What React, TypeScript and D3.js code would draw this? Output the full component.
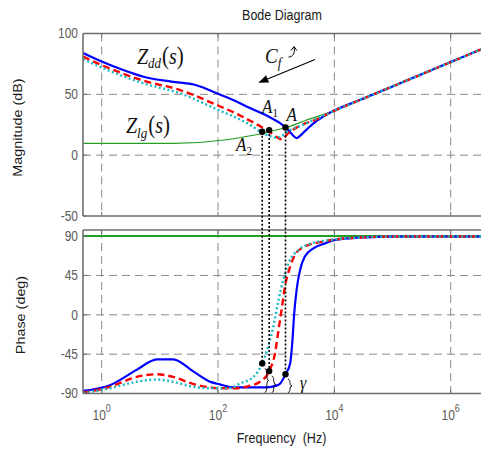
import React from 'react';
import * as d3 from 'd3';

type P = [number, number]; // [log10(frequency in Hz), value]

const xTickExps = [0, 2, 4, 6];
const magTicks = [100, 50, 0, -50];
const phaseTicks = [90, 45, 0, -45, -90];

const magBlue: P[] = [[-0.32, 84], [0, 77], [0.37, 70], [0.72, 64.5], [1.2, 60.5], [1.6, 57.9], [2.01, 50.2], [2.3, 44.5], [2.55, 38.7], [2.9, 31], [3.06, 26.5], [3.16, 23], [3.27, 17.3], [3.35, 14], [3.41, 15.9], [3.5, 20], [3.7, 28.3], [3.93, 35], [4.5, 46.5], [5, 56.5], [5.5, 66.5], [6, 76.5], [6.6, 88.5]];
const magRed: P[] = [[-0.32, 81], [0, 74], [0.72, 61.2], [1.35, 53.5], [2.01, 40.6], [2.3, 34.5], [2.55, 28.3], [2.81, 21.4], [2.95, 17], [3.04, 14], [3.1, 13], [3.19, 17.3], [3.35, 22.7], [3.7, 29.6], [3.93, 35], [4.5, 46.5], [5, 56.5], [5.5, 66.5], [6, 76.5], [6.6, 88.5]];
const magCyan: P[] = [[-0.32, 79], [0, 72], [0.72, 59], [1.35, 50.8], [2.01, 37], [2.3, 31], [2.55, 25], [2.75, 18.6], [2.9, 15.5], [2.99, 14.5], [3.07, 15], [3.19, 19.4], [3.41, 24], [3.7, 30], [3.93, 35], [4.5, 46.5], [5, 56.5], [5.5, 66.5], [6, 76.5], [6.6, 88.5]];
const magGreen: P[] = [[-0.32, 9.7], [1.23, 9.7], [3.16, 22.5], [3.5, 28.5], [3.93, 35.5], [4.5, 46.5], [5, 56.5], [6, 76.5], [6.6, 88.5]];

const phBlue: P[] = [[-0.32, -87], [0.14, -80.5], [0.6, -63], [0.95, -51], [1.23, -51], [1.58, -65], [1.87, -76.7], [2.03, -79.5], [2.27, -83], [2.84, -83], [3.0, -81], [3.07, -78.5], [3.16, -68], [3.24, -55.7], [3.28, -29], [3.31, 1.6], [3.35, 28], [3.41, 51], [3.49, 66.4], [3.64, 76], [3.84, 81.7], [4, 85.5], [4.5, 88.5], [5, 89.5], [6.6, 89.5]];
const phRed: P[] = [[-0.32, -89], [0.14, -82.4], [0.6, -71], [0.95, -68], [1.23, -71], [1.58, -79.3], [1.87, -83], [2.0, -84], [2.3, -84], [2.55, -81], [2.72, -76.6], [2.88, -64.4], [2.98, -44], [3.04, -17.5], [3.1, 9], [3.15, 32], [3.24, 55], [3.32, 68.3], [3.49, 78], [3.78, 83.5], [4, 86], [4.5, 88.5], [5, 89.5], [6.6, 89.5]];
const phCyan: P[] = [[-0.32, -89.5], [0.14, -84], [0.6, -76.6], [0.95, -74], [1.23, -76.6], [1.58, -82.4], [1.87, -84], [2.2, -84], [2.38, -78.5], [2.61, -71], [2.76, -55.6], [2.86, -36.6], [2.95, -13.7], [3.04, 16.8], [3.12, 39.7], [3.21, 58.8], [3.38, 74], [3.61, 81.7], [4, 86], [4.5, 88.5], [5, 89.5], [6.6, 89.5]];
const phGreen: P[] = [[-0.32, 90], [6.6, 90]];

const pointNames = ['A2', 'A1', 'A'];
const pointLogF = [2.76, 2.88, 3.16];
const pointMag = [19.3, 20.6, 22.7];
const pointPhase = [-55.6, -64.4, -68];

const SY = 1.15;
const SANS = 'Liberation Sans, Arial, sans-serif';
const SERIF = 'Liberation Serif, Times New Roman, serif';

const C_BLUE = '#0000ff';
const C_RED = '#ff0000';
const C_CYAN = '#17b9c6';
const C_GREEN = '#22a022';
const C_GRID = '#8a8a8a';
const C_AXIS = '#6e6e6e';
const C_TICK = '#5a5a5a';

function T(props: any) {
  const { x, y, children, ...rest } = props;
  return (
    <text transform={`translate(${x},${y}) scale(1,${SY})`} {...rest}>
      {children}
    </text>
  );
}

function brace(x: number, y0: number, y1: number, w: number) {
  const m = (y0 + y1) / 2;
  return `M${x},${y0} C${x + w * 0.8},${y0} ${x + w * 0.2},${m} ${x + w},${m} C${x + w * 0.2},${m} ${x + w * 0.8},${y1} ${x},${y1}`;
}

export default function App() {
  const L = 83;
  const R = 485.6;
  const x = d3.scaleLog().domain([Math.pow(10, -0.321), Math.pow(10, 6.6)]).range([L, R]);
  const yMag = d3.scaleLinear().domain([-50, 100]).range([216, 33.5]);
  const yPh = d3.scaleLinear().domain([-90, 97]).range([393.5, 230]);

  const fx = (e: number) => x(Math.pow(10, e));
  const lineMag = d3.line<P>().x((d) => fx(d[0])).y((d) => yMag(d[1])).curve(d3.curveMonotoneX);
  const linePh = d3.line<P>().x((d) => fx(d[0])).y((d) => yPh(d[1])).curve(d3.curveMonotoneX);

  const magTop = yMag(100), magBot = yMag(-50);
  const phTop = yPh(97), phBot = yPh(-90);

  // arrow for C_f
  const ax0 = 315, ay0 = 59.5, ax1 = 258.3, ay1 = 82.7;
  const ang = Math.atan2(ay1 - ay0, ax1 - ax0);
  const hl = 10, hw = 4;
  const bx = ax1 - hl * Math.cos(ang), by = ay1 - hl * Math.sin(ang);
  const head = `M${ax1},${ay1} L${bx + hw * Math.sin(ang)},${by - hw * Math.cos(ang)} L${bx - hw * Math.sin(ang)},${by + hw * Math.cos(ang)} Z`;

  const gridDash = '8,5';

  return (
    <svg width={481} height={450} style={{ position: 'absolute', left: 0, top: 0, background: '#fff' }}>
      <defs>
        <clipPath id="clipMag"><rect x={L} y={magTop} width={R - L} height={magBot - magTop} /></clipPath>
        <clipPath id="clipPh"><rect x={L} y={phTop} width={R - L} height={phBot - phTop} /></clipPath>
      </defs>

      {/* Title */}
      <T x={282} y={19.5} textAnchor="middle" fontFamily={SANS} fontSize={12.5} fill="#1a1a1a">Bode Diagram</T>

      {/* Magnitude grid */}
      <g stroke={C_GRID} strokeWidth={1} strokeDasharray={gridDash} fill="none">
        {magTicks.filter((t) => t !== 100 && t !== -50).map((t) => (
          <line key={'mh' + t} x1={L} x2={R} y1={yMag(t)} y2={yMag(t)} />
        ))}
        {xTickExps.map((e) => (
          <line key={'mv' + e} x1={fx(e)} x2={fx(e)} y1={magTop} y2={magBot} />
        ))}
        {phaseTicks.filter((t) => t !== 90 && t !== -90).map((t) => (
          <line key={'ph' + t} x1={L} x2={R} y1={yPh(t)} y2={yPh(t)} />
        ))}
        {xTickExps.map((e) => (
          <line key={'pv' + e} x1={fx(e)} x2={fx(e)} y1={phTop} y2={phBot} />
        ))}
      </g>

      {/* Magnitude curves */}
      <g clipPath="url(#clipMag)" fill="none">
        <path d={lineMag(magGreen) || ''} stroke={C_GREEN} strokeWidth={1.2} />
        <path d={lineMag(magBlue) || ''} stroke={C_BLUE} strokeWidth={2.2} />
        <path d={lineMag(magRed) || ''} stroke={C_RED} strokeWidth={2.4} strokeDasharray="7,4" />
        <path d={lineMag(magCyan) || ''} stroke={C_CYAN} strokeWidth={2.4} strokeDasharray="2,2.5" />
      </g>

      {/* Phase curves */}
      <g clipPath="url(#clipPh)" fill="none">
        <path d={linePh(phGreen) || ''} stroke={C_GREEN} strokeWidth={2} />
        <path d={linePh(phBlue) || ''} stroke={C_BLUE} strokeWidth={2.2} />
        <path d={linePh(phRed) || ''} stroke={C_RED} strokeWidth={2.4} strokeDasharray="7,4" />
        <path d={linePh(phCyan) || ''} stroke={C_CYAN} strokeWidth={2.4} strokeDasharray="2,2.5" />
      </g>

      {/* Axes frames */}
      <g stroke={C_AXIS} strokeWidth={1.6} fill="none">
        <line x1={L} x2={R} y1={magTop} y2={magTop} />
        <line x1={L} x2={R} y1={magBot} y2={magBot} />
        <line x1={L} x2={L} y1={magTop} y2={magBot} />
        <line x1={L} x2={R} y1={phTop} y2={phTop} />
        <line x1={L} x2={R} y1={phBot} y2={phBot} />
        <line x1={L} x2={L} y1={phTop} y2={phBot} />
      </g>
      <g stroke={C_AXIS} strokeWidth={1}>
        {magTicks.map((t) => (
          <line key={'mt' + t} x1={L} x2={L + 4} y1={yMag(t)} y2={yMag(t)} />
        ))}
        {phaseTicks.map((t) => (
          <line key={'pt' + t} x1={L} x2={L + 4} y1={yPh(t)} y2={yPh(t)} />
        ))}
        {xTickExps.map((e) => (
          <g key={'xt' + e}>
            <line x1={fx(e)} x2={fx(e)} y1={magBot} y2={magBot - 4} />
            <line x1={fx(e)} x2={fx(e)} y1={magTop} y2={magTop + 4} />
            <line x1={fx(e)} x2={fx(e)} y1={phBot} y2={phBot - 4} />
            <line x1={fx(e)} x2={fx(e)} y1={phTop} y2={phTop + 4} />
          </g>
        ))}
      </g>

      {/* Tick labels */}
      <g fontFamily={SANS} fontSize={12} fill={C_TICK}>
        {magTicks.map((t) => (
          <T key={'ml' + t} x={78} y={yMag(t) + 4.8} textAnchor="end">{String(t)}</T>
        ))}
        {phaseTicks.map((t) => (
          <T key={'pl' + t} x={78} y={yPh(t) + 4.8} textAnchor="end">{String(t)}</T>
        ))}
        {xTickExps.map((e) => (
          <T key={'xl' + e} x={fx(e)} y={419.5} textAnchor="middle">
            10<tspan fontSize={9} dy={-6.5}>{String(e)}</tspan>
          </T>
        ))}
      </g>

      {/* Axis labels */}
      <T x={281.5} y={442.5} textAnchor="middle" fontFamily={SANS} fontSize={12.5} fill="#1a1a1a">{'Frequency\u00a0 (Hz)'}</T>
      <text transform={`translate(21.8,127.5) rotate(-90) scale(${SY},1)`} textAnchor="middle" fontFamily={SANS} fontSize={12.5} fill="#1a1a1a">Magnitude (dB)</text>
      <text transform={`translate(25,315) rotate(-90) scale(${SY},1)`} textAnchor="middle" fontFamily={SANS} fontSize={12.5} fill="#1a1a1a">Phase (deg)</text>

      {/* Intersection guides */}
      <g>
        {pointLogF.map((e, i) => (
          <line key={'gl' + i} x1={fx(e)} x2={fx(e)} y1={yMag(pointMag[i])} y2={yPh(pointPhase[i])}
            stroke="#000" strokeWidth={1.6} strokeDasharray="2,2" />
        ))}
        {pointLogF.map((e, i) => (
          <path key={'br' + i} d={brace(fx(e) + 2.5, yPh(pointPhase[i]) + 5, phBot - 1, 4)} stroke="#000" strokeWidth={0.9} fill="none" />
        ))}
        {pointLogF.map((e, i) => (
          <circle key={'pm' + i} cx={fx(e)} cy={yMag(pointMag[i])} r={3.2} fill="#000" />
        ))}
        {pointLogF.map((e, i) => (
          <circle key={'pp' + i} cx={fx(e)} cy={yPh(pointPhase[i])} r={3.2} fill="#000" />
        ))}
      </g>

      {/* Annotations */}
      <g fontFamily={SERIF} fill="#111">
        <T x={137} y={63.5} fontSize={20}>
          <tspan fontStyle="italic">Z</tspan>
          <tspan fontStyle="italic" fontSize={13} dy={4}>dd</tspan>
          <tspan fontSize={21} dy={-4} dx={1}>(</tspan>
          <tspan fontStyle="italic">s</tspan>
          <tspan fontSize={21}>)</tspan>
        </T>
        <T x={126} y={133} fontSize={20}>
          <tspan fontStyle="italic">Z</tspan>
          <tspan fontStyle="italic" fontSize={13} dy={4}>lg</tspan>
          <tspan fontSize={21} dy={-4} dx={1}>(</tspan>
          <tspan fontStyle="italic">s</tspan>
          <tspan fontSize={21}>)</tspan>
        </T>
        <T x={265} y={63} fontSize={19}>
          <tspan fontStyle="italic">C</tspan>
          <tspan fontStyle="italic" fontSize={13} dy={4}>f</tspan>
        </T>
        <T x={262} y={112.5} fontSize={17}>
          <tspan fontStyle="italic">A</tspan>
          <tspan fontSize={11} dy={4}>1</tspan>
        </T>
        <T x={286.5} y={120.5} fontSize={17}>
          <tspan fontStyle="italic">A</tspan>
        </T>
        <T x={236} y={150.5} fontSize={17}>
          <tspan fontStyle="italic">A</tspan>
          <tspan fontSize={11} dy={4}>2</tspan>
        </T>
        <T x={300} y={388.5} fontSize={16}>
          <tspan fontStyle="italic">γ</tspan>
        </T>
      </g>

      {/* C_f arrows */}
      <line x1={ax0} y1={ay0} x2={bx} y2={by} stroke="#000" strokeWidth={1.1} />
      <path d={head} fill="#000" />
      <path d="M288.5,57 C292.5,57.5 295.5,53 294,47" stroke="#000" strokeWidth={1} fill="none" />
      <path d="M291,50.5 L294,46.5 L296.8,50.5" stroke="#000" strokeWidth={1} fill="none" />
    </svg>
  );
}
